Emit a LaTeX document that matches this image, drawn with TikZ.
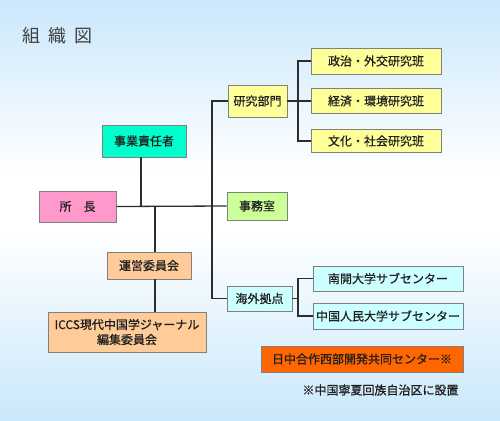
\documentclass[tikz,border=0pt]{standalone}
\usepackage{fontspec}
\newfontfamily\jp{Noto Sans CJK JP}
\newfontfamily\jpb[FakeBold=0.6]{Noto Sans CJK JP}
\usetikzlibrary{shadings}

\definecolor{bgblue}{RGB}{202,232,251}
\definecolor{boxgray}{RGB}{128,128,128}
\definecolor{linegray}{RGB}{45,45,45}
\definecolor{textdark}{RGB}{30,30,30}
\definecolor{cmint}{RGB}{0,255,204}
\definecolor{cpink}{RGB}{255,153,204}
\definecolor{clime}{RGB}{204,255,153}
\definecolor{cyellow}{RGB}{255,255,153}
\definecolor{ccyan}{RGB}{204,255,255}
\definecolor{capricot}{RGB}{255,204,153}
\definecolor{corange}{RGB}{255,102,0}

\tikzset{
  box/.style={draw=boxgray, line width=0.9pt, inner sep=0pt, text=textdark,
    font=\jpb\fontsize{12}{15}\selectfont},
  link/.style={draw=linegray, line width=1.3pt},
}

\begin{document}
\begin{tikzpicture}[x=1pt,y=-1pt]
    % 背景
    \useasboundingbox (0,0) rectangle (500,420);
    \shade[top color=bgblue, bottom color=white] (0,0) rectangle (500,175);
    \fill[white] (0,175) rectangle (500,230);
    \shade[top color=white, bottom color=bgblue] (0,230) rectangle (500,420);

    % 标题
    \node[text=textdark!85, font=\jp\fontsize{18}{20}\selectfont] (title) at (57.5,36)
        {組\hspace{8.5pt}織\hspace{8.5pt}図};

    % 各框
    \node[box, fill=cmint,    minimum width=84pt,  minimum height=32pt] (jigyo)  at (144,141)   {事業責任者};
    \node[box, fill=cpink,    minimum width=77pt,  minimum height=31pt] (shocho) at (77.5,206.5) {所　長};
    \node[box, fill=capricot, minimum width=84pt,  minimum height=27pt] (unei)   at (149,265.5) {運営委員会};
    \node[box, fill=capricot, minimum width=158pt, minimum height=40pt, align=center] (iccs) at (127,332)
        {ICCS現代中国学ジャーナル\\編集委員会};
    \node[box, fill=cyellow,  minimum width=59pt,  minimum height=32pt] (kenkyu) at (257.5,101) {研究部門};
    \node[box, fill=clime,    minimum width=60pt,  minimum height=28pt] (jimu)   at (257,206)   {事務室};
    \node[box, fill=ccyan,    minimum width=65pt,  minimum height=25pt] (kaigai) at (259.5,298.5) {海外拠点};
    \node[box, fill=cyellow,  minimum width=130pt, minimum height=26pt] (seiji)  at (376,61)    {政治・外交研究班};
    \node[box, fill=cyellow,  minimum width=130pt, minimum height=25pt] (keizai) at (376,101)   {経済・環境研究班};
    \node[box, fill=cyellow,  minimum width=130pt, minimum height=23pt] (bunka)  at (376,141)   {文化・社会研究班};
    \node[box, fill=ccyan,    minimum width=150pt, minimum height=25pt] (nankai) at (388,278.5) {南開大学サブセンター};
    \node[box, fill=ccyan,    minimum width=150pt, minimum height=26pt] (jinmin) at (388,316)   {中国人民大学サブセンター};
    \node[box, fill=corange,  minimum width=202pt, minimum height=26pt] (nicchu) at (362,359)   {日中合作西部開発共同センター※};
    \node[text=textdark, font=\jpb\fontsize{12}{15}\selectfont] (note) at (380.5,390) {※中国寧夏回族自治区に設置};

    % 连接点
    \coordinate (hub) at (155,206);
    \coordinate (trunk) at (212,206);
    \coordinate (rbr) at (298,101);
    \coordinate (kbr) at (298,298.5);

    % 连线
    \draw[link] (shocho.east) -- (jimu.west);
    \draw[link] ([xshift=-3pt]jigyo.south) -- ([xshift=-3pt]jigyo.south |- shocho.east);
    \draw[link] (hub) -- (hub |- unei.north);
    \draw[link] (hub |- unei.south) -- (hub |- iccs.north);
    \draw[link] (kenkyu.west) -| (trunk) |- (kaigai.west);
    \draw[link] (kenkyu.east) -- (keizai.west);
    \draw[link] (seiji.west) -| (rbr) |- (bunka.west);
    \draw[link] (kaigai.east) -- (kbr);
    \draw[link] (nankai.west) -| (kbr) |- (jinmin.west);
\end{tikzpicture}
\end{document}
